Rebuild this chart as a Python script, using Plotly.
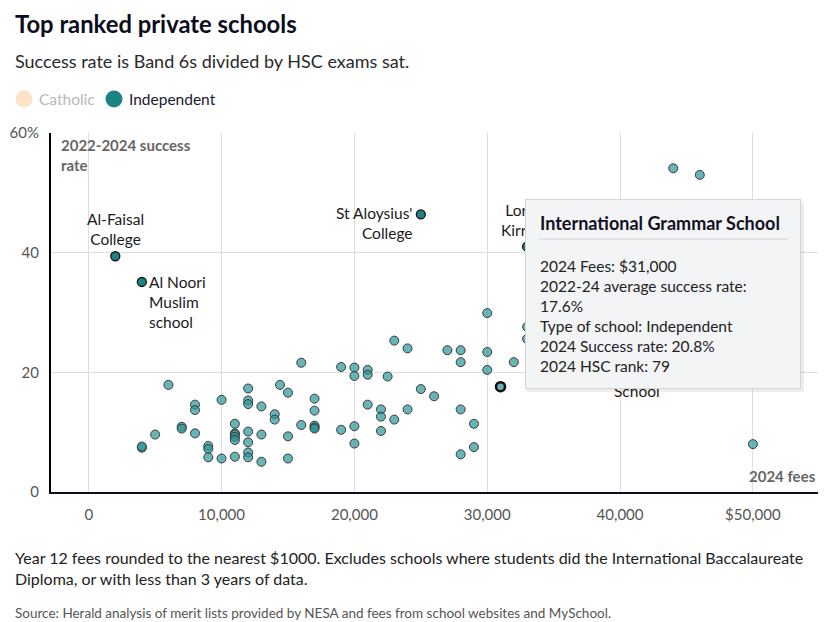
import plotly.graph_objects as go

# ---------------- data ----------------
ind_fees = [4000, 4000, 5000, 6000, 7000, 7000, 8000, 8000, 8000, 9000, 9000, 9000,
            10000, 10000, 11000, 11000, 11000, 11000, 11000, 11000,
            12000, 12000, 12000, 12000, 12000, 12000, 12000, 13000, 13000, 13000,
            14000, 14000, 14400, 15000, 15000, 15000, 16000, 16000,
            17000, 17000, 17000, 17000, 17000, 19000, 19000, 20000, 20000, 20000, 20000,
            21000, 21000, 21000, 22000, 22000, 22000, 22500, 23000, 23000, 24000, 24000,
            25000, 26000, 27000, 28000, 28000, 28000, 28000, 29000, 29000,
            30000, 30000, 30000, 32000, 33000, 33000, 44000, 46000, 50000]
ind_rates = [7.4, 7.6, 9.6, 17.9, 10.9, 10.6, 14.6, 13.7, 9.8, 7.7, 7.2, 5.8,
             15.4, 5.6, 11.4, 9.8, 9.6, 9.2, 8.7, 5.9,
             17.3, 15.3, 14.7, 10.1, 8.3, 6.6, 5.8, 14.3, 9.6, 5.05,
             13.0, 12.1, 17.9, 16.6, 9.3, 5.6, 21.6, 11.2,
             15.6, 13.6, 11.1, 10.8, 10.6, 20.9, 10.4, 20.8, 19.4, 11.0, 8.1,
             20.4, 19.6, 14.6, 13.8, 12.6, 10.2, 19.3, 25.3, 12.1, 24.0, 13.8,
             17.2, 16.0, 23.7, 23.7, 21.7, 13.8, 6.3, 11.4, 7.5,
             29.9, 23.4, 20.4, 21.7, 27.6, 25.6, 54.1, 53.0, 8.0]

lab_names = ["Al-Faisal<br>College", "Al Noori<br>Muslim<br>school", "St Aloysius'<br>College",
             "Loreto<br>Kirribilli", "Sydney<br>Grammar<br>School"]
lab_fees = [2000, 4000, 25000, 33000, 39000]
lab_rates = [39.4, 35.1, 46.4, 41.0, 23.5]
lab_place = ["above", "right", "left", "above", "right"]

hov_name = "International Grammar School"
hov_fee = 31000
hov_rate = 17.6
hov_lines = ["2024 Fees: $31,000", "2022-24 average success rate:", "17.6%",
             "Type of school: Independent", "2024 Success rate: 20.8%", "2024 HSC rank: 79"]

x_ticks = [0, 10000, 20000, 30000, 40000, 50000]
x_ticktext = ["0", "10,000", "20,000", "30,000", "40,000", "$50,000"]
y_ticks = [0, 20, 40, 60]
y_ticktext = ["0", "20", "40", "60%"]

legend_names = ["Catholic", "Independent"]

# ---------------- layout helpers ----------------
W, H = 827, 622
ML, MR, MT, MB = 51, 9, 133, 130
PW, PH = W - ML - MR, H - MT - MB
FONT = "Lato"
TEAL = "#1f8285"


def px(x):
    return (x - ML) / PW


def py(y):
    return (H - MB - y) / PH


fig = go.Figure()
fig.add_trace(go.Scatter(
    x=ind_fees, y=ind_rates, mode="markers", showlegend=False, hoverinfo="skip",
    marker=dict(size=9, color="rgba(40,150,153,0.7)", line=dict(width=1, color="#3a3a3a"))))
fig.add_trace(go.Scatter(
    x=lab_fees, y=lab_rates, mode="markers", showlegend=False, hoverinfo="skip",
    marker=dict(size=9, color=TEAL, line=dict(width=1.3, color="#151515"))))
fig.add_trace(go.Scatter(
    x=[hov_fee], y=[hov_rate], mode="markers", showlegend=False, hoverinfo="skip",
    marker=dict(size=9, color="rgba(40,150,153,0.7)", line=dict(width=2.6, color="#111111"))))

LABF = dict(family=FONT, size=15.5, color="#1a1a1a")
ann = []
# point labels
for n, fx, fy, pl in zip(lab_names, lab_fees, lab_rates, lab_place):
    if pl == "above":
        ann.append(dict(x=fx, y=fy, xref="x", yref="y", text=n, showarrow=False,
                        xanchor="center", yanchor="bottom", yshift=6, align="center", font=LABF))
    elif pl == "right":
        ann.append(dict(x=fx, y=fy, xref="x", yref="y", text=n, showarrow=False,
                        xanchor="left", yanchor="top", xshift=5, yshift=11, align="left", font=LABF))
    else:
        ann.append(dict(x=fx, y=fy, xref="x", yref="y", text=n, showarrow=False,
                        xanchor="right", yanchor="top", xshift=-6, yshift=12, align="right", font=LABF))

# axis titles inside plot
ann.append(dict(x=px(59), y=py(155), xref="paper", yref="paper", xanchor="left", yanchor="middle",
                text="<b>2022-2024 success<br>rate</b>", showarrow=False, align="left",
                font=dict(family=FONT, size=15, color="#666666")))
ann.append(dict(x=px(818), y=py(476), xref="paper", yref="paper", xanchor="right", yanchor="middle",
                text="<b>2024 fees</b>", showarrow=False,
                font=dict(family=FONT, size=15, color="#666666")))

# title, subtitle, legend, notes
ann.append(dict(x=px(13), y=py(24), xref="paper", yref="paper", xanchor="left", yanchor="middle",
                text="<b>Top ranked private schools</b>", showarrow=False,
                font=dict(family=FONT, size=23.8, color="#0c0c1e")))
ann.append(dict(x=px(13), y=py(61), xref="paper", yref="paper", xanchor="left", yanchor="middle",
                text="Success rate is Band 6s divided by HSC exams sat.", showarrow=False,
                font=dict(family=FONT, size=18, color="#2a2a2a")))
leg_cols = ["#fde3c8", TEAL]
leg_txtcol = ["#b8b8b8", "#1a1a2e"]
leg_cx = [24, 114]
shapes = []
for name, c, tc, cx in zip(legend_names, leg_cols, leg_txtcol, leg_cx):
    shapes.append(dict(type="circle", xref="paper", yref="paper", xsizemode="pixel", ysizemode="pixel",
                       xanchor=px(cx), yanchor=py(99), x0=-8.5, x1=8.5, y0=-8.5, y1=8.5,
                       fillcolor=c, line=dict(width=0)))
    ann.append(dict(x=px(cx + 13), y=py(99), xref="paper", yref="paper", xanchor="left", yanchor="middle",
                    text=name, showarrow=False, font=dict(family=FONT, size=15.5, color=tc)))

ann.append(dict(x=px(13), y=py(568), xref="paper", yref="paper", xanchor="left", yanchor="middle",
                text="Year 12 fees rounded to the nearest $1000. Excludes schools where students did the International Baccalaureate<br>Diploma, or with less than 3 years of data.",
                showarrow=False, align="left", font=dict(family=FONT, size=16, color="#222222")))
ann.append(dict(x=px(13), y=py(613), xref="paper", yref="paper", xanchor="left", yanchor="middle",
                text="Source: Herald analysis of merit lists provided by NESA and fees from school websites and MySchool.",
                showarrow=False, font=dict(family=FONT, size=13.5, color="#555555")))

# tooltip (drawn last so it sits on top)
ann.append(dict(x=px(527), y=py(201), xref="paper", yref="paper", xanchor="left", yanchor="top",
                text=" ", showarrow=False, width=277, height=191, borderpad=0,
                bgcolor="rgba(0,0,0,0.07)", borderwidth=0))
ann.append(dict(x=px(525), y=py(199), xref="paper", yref="paper", xanchor="left", yanchor="top",
                text=" ", showarrow=False, width=274, height=188, borderpad=0,
                bgcolor="#f3f4f6", bordercolor="#d4d4d4", borderwidth=1))
ann.append(dict(x=px(538), y=py(223), xref="paper", yref="paper", xanchor="left", yanchor="middle",
                text="<b>" + hov_name + "</b>", showarrow=False,
                font=dict(family=FONT, size=18, color="#111122")))
ann.append(dict(x=px(788), y=py(239), xref="paper", yref="paper", text="", showarrow=True,
                ax=-250, ay=0, arrowhead=0, arrowwidth=1, arrowcolor="#cfcfcf",
                standoff=0, startstandoff=0))
for i, line in enumerate(hov_lines):
    ann.append(dict(x=px(538), y=py(266 + 20 * i), xref="paper", yref="paper", xanchor="left",
                    yanchor="middle", text=line, showarrow=False,
                    font=dict(family=FONT, size=15.5, color="#222222")))

fig.update_layout(
    width=W, height=H, margin=dict(l=ML, r=MR, t=MT, b=MB, pad=0),
    paper_bgcolor="white", plot_bgcolor="white", showlegend=False,
    annotations=ann, shapes=shapes,
    xaxis=dict(range=[-2840, 54900], tickvals=x_ticks, ticktext=x_ticktext, showgrid=True,
               gridcolor="#dedede", gridwidth=1, zeroline=False, showline=True, linecolor="#0d0d2b",
               linewidth=2, ticks="", ticklabelstandoff=8,
               tickfont=dict(family=FONT, size=15, color="#555555"), fixedrange=True),
    yaxis=dict(range=[0, 60], tickvals=y_ticks, ticktext=y_ticktext, showgrid=True,
               gridcolor="#dedede", gridwidth=1, zeroline=False, showline=True, linecolor="#000000",
               linewidth=2, ticks="", ticklabelstandoff=7,
               tickfont=dict(family=FONT, size=15, color="#555555"), fixedrange=True),
)

fig.write_html("out.html", config={"displayModeBar": False},
               post_script="document.body.style.margin='0';")
